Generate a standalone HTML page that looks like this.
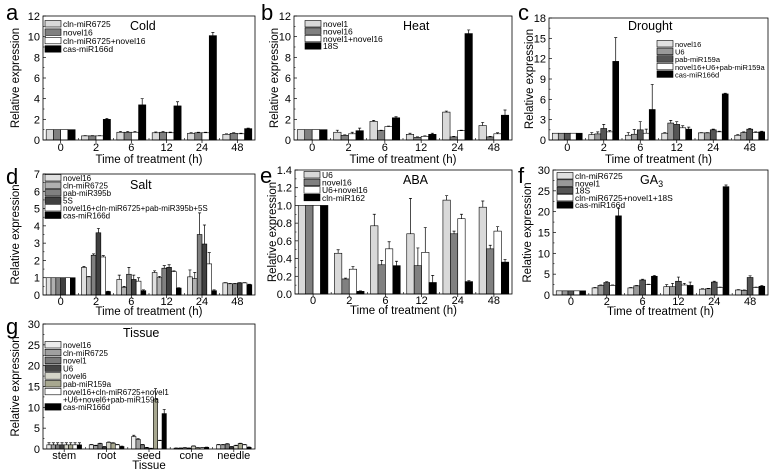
<!DOCTYPE html>
<html><head><meta charset="utf-8"><style>
body{margin:0;background:#fff;}
svg{display:block;font-family:"Liberation Sans",Arial,sans-serif;}
</style></head><body>
<svg id="fig" width="769" height="476" viewBox="0 0 769 476" xmlns="http://www.w3.org/2000/svg"></svg>
<script>
const times=["0","2","6","12","24","48"];
const tissues=["stem","root","seed","cone","needle"];
// panel a
const aNames=["cln-miR6725","novel16","cln-miR6725+novel16","cas-miR166d"];
const aVals=[[1,0.4,0.75,0.7,0.65,0.55],[1,0.4,0.75,0.75,0.7,0.65],[1,0.4,0.75,0.7,0.7,0.6],[1,2,3.4,3.3,10.1,1.1]];
const aErr=[[0,0.03,0.08,0.08,0.05,0.05],[0,0.03,0.08,0.08,0.05,0.05],[0,0.03,0.08,0.06,0.05,0.05],[0,0.1,0.6,0.4,0.3,0.05]];
// panel b
const bNames=["novel1","novel16","novel1+novel16","18S"];
const bVals=[[1,0.75,1.8,0.55,2.7,1.4],[1,0.45,0.9,0.25,0.3,0.3],[1,0.6,1.3,0.35,0.9,0.6],[1,0.9,2.15,0.55,10.3,2.4]];
const bErr=[[0,0.2,0.1,0.1,0.1,0.3],[0,0.05,0.05,0.05,0.05,0.05],[0,0.15,0.05,0.05,0.05,0.1],[0,0.25,0.1,0.1,0.35,0.5]];
// panel c
const cNames=["novel16","U6","pab-miR159a","novel16+U6+pab-miR159a","cas-miR166d"];
const cVals=[[1,0.8,0.7,1.0,1.05,0.7],[1,0.9,0.85,2.5,1.05,1.1],[1,1.7,1.5,2.3,1.5,1.6],[1,1.2,1.0,1.8,1.2,1.1],[1,11.6,4.5,1.6,6.8,1.2]];
const cErr=[[0,0.3,0.4,0.1,0.05,0.1],[0,0.3,0.7,0.4,0.05,0.1],[0,0.6,1.2,0.4,0.1,0.1],[0,0.2,0.6,0.3,0.1,0.1],[0,3.5,3.7,0.3,0.1,0.1]];
// panel d
const dNames=["novel16","cln-miR6725","pab-miR395b","5S","novel16+cln-miR6725+pab-miR395b+5S","cas-miR166d"];
const dVals=[[1,1.6,0.9,1.3,1.05,0.7],[1,1.05,0.45,1.0,0.95,0.65],[1,2.3,1.2,1.55,3.5,0.65],[1,3.6,0.9,1.6,2.95,0.7],[1,2.2,0.8,1.35,1.8,0.7],[1,0.2,0.25,0.4,0.25,0.6]];
const dErr=[[0,0.05,0.25,0.1,0.4,0.02],[0,0.02,0.05,0.08,0.35,0.02],[0,0.08,0.4,0.15,1.25,0.02],[0,0.25,0.25,0.15,1.1,0.02],[0,0.08,0.2,0.05,0.65,0.02],[0,0.02,0.05,0.02,0.05,0.02]];
// panel e
const eNames=["U6","novel16","U6+novel16","cln-miR162"];
const eVals=[[1,0.46,0.77,0.68,1.06,0.98],[1,0.17,0.33,0.32,0.68,0.51],[1,0.28,0.51,0.47,0.85,0.71],[1,0.03,0.32,0.13,0.14,0.36]];
const eErr=[[0,0.04,0.13,0.4,0.05,0.07],[0,0.01,0.05,0.2,0.03,0.04],[0,0.03,0.08,0.28,0.05,0.05],[0,0.005,0.05,0.08,0.01,0.03]];
// panel f
const fNames=["cln-miR6725","novel1","18S","cln-miR6725+novel1+18S","cas-miR166d"];
const fVals=[[1,1.7,1.7,2,1.4,1.2],[1,2.3,2.2,2,1.5,1.1],[1,3,3.6,3.3,3.1,4.2],[1,2.3,2.5,2.4,1.8,1.8],[1,19,4.5,2.3,26,2.1]];
const fErr=[[0,0.1,0.1,0.5,0.1,0.1],[0,0.1,0.1,0.8,0.1,0.1],[0,0.2,0.2,1.0,0.2,0.4],[0,0.1,0.1,0.4,0.1,0.1],[0,1.8,0.2,0.8,0.4,0.2]];
// panel g
const gNames=["novel16","cln-miR6725","novel1","U6","novel6","pab-miR159a","novel16+cln-miR6725+novel1\n+U6+novel6+pab-miR159a","cas-miR166d"];
const gVals=[[1,1,3,0.2,1],[1,0.8,2.3,0.2,1],[1,1.3,1,0.3,1.2],[1,0.5,0.3,0.2,0.5],[1,1.6,0.1,0.7,0.8],[1,1.4,12,0.3,1.3],[1,1,2,0.3,1],[1,0.6,8.5,0.4,0.4]];
const gErr=[[0.5,0.1,0.3,0.05,0.1],[0.5,0.1,0.2,0.05,0.1],[0.5,0.1,0.1,0.05,0.1],[0.5,0.1,0.1,0.05,0.1],[0.5,0.1,0.1,0.05,0.1],[0.5,0.1,2.5,0.05,0.1],[0.5,0.1,0.1,0.05,0.1],[0.5,0.1,1,0.05,0.1]];

const C4=["#d9d9d9","#808080","#ffffff","#000000"];
const C5=["#e0e0e0","#999999","#555555","#ffffff","#000000"];
const C6=["#e0e0e0","#b0b0b0","#808080","#404040","#ffffff","#000000"];
const CG=["#ececec","#a0a0a0","#7a7a7a","#454545","#d4d4c8","#a8a890","#ffffff","#000000"];

const NS="http://www.w3.org/2000/svg";
const svg=document.getElementById("fig");
function mk(tag,attrs,parent){const e=document.createElementNS(NS,tag);for(const k in attrs)e.setAttribute(k,attrs[k]);(parent||svg).appendChild(e);return e;}
function txt(s,x,y,size,anchor,parent,extra){const t=mk("text",Object.assign({x:x,y:y,"font-size":size,"text-anchor":anchor||"start",fill:"#000"},extra||{}),parent);t.textContent=s;return t;}

function panel(o){
  const g=mk("g",{});
  
  
  const {x0,x1,y0,y1,max,step}=o;
  const ys=v=>y1-(v/max)*(y1-y0);
  const n=o.cats.length, band=(x1-x0)/n;
  const xc=i=>x0+band*(i+0.5);
  const ns=o.vals.length, gw=band*0.82, bw=gw/ns;
  o.vals.forEach((ser,s)=>{
    ser.forEach((v,i)=>{
      const bx=xc(i)-gw/2+s*bw;
      const r=mk("rect",{x:bx,y:ys(v),width:bw,height:y1-ys(v),fill:o.colors[s],stroke:"#000","stroke-width":0.6},g);
      
      
      const e=o.err[s][i];
      if(e>0){const cx=bx+bw/2;mk("path",{d:`M${cx},${ys(v)}V${ys(v+e)}M${cx-1.5},${ys(v+e)}H${cx+1.5}`,stroke:"#000","stroke-width":0.7,fill:"none"},g);}
    });
  });
  const fr=mk("rect",{x:x0,y:y0,width:x1-x0,height:y1-y0,fill:"none",stroke:"#000","stroke-width":0.8},g);
  
  
  for(let v=0;v<=max+1e-9;v+=step){
    const y=ys(v);
    mk("line",{x1:x0,x2:x0+3,y1:y,y2:y,stroke:"#000","stroke-width":0.7},g);
    const hv=v+step/2; if(hv<max){mk("line",{x1:x0,x2:x0+1.5,y1:ys(hv),y2:ys(hv),stroke:"#000","stroke-width":0.6},g);}
    const lab=o.dec?v.toFixed(1):String(Math.round(v));
    const t=txt(lab,x0-3,y+4,11,"end",g);
    
    
  }
  o.cats.forEach((c,i)=>{
    mk("line",{x1:xc(i),x2:xc(i),y1:y1,y2:y1+3,stroke:"#000","stroke-width":0.7},g);
    if(i<n-1)mk("line",{x1:x0+band*(i+1),x2:x0+band*(i+1),y1:y1,y2:y1-2,stroke:"#000","stroke-width":0.6},g);
    const t=txt(c,xc(i),y1+o.tkOff,11,"middle",g);
    
    
  });
  const xt=txt(o.xtitle,(x0+x1)/2,y1+o.ttOff,11.5,"middle",g);
  
  
  const yt=txt("Relative expression",0,0,11.5,"middle",g,{transform:`translate(${o.ytx},${(y0+y1)/2}) rotate(-90)`});
  
  
  const lt=txt(o.id,o.lx,o.ly,22,"start",g);
  
  
  const tt=txt(o.title,o.tx,o.ty,12.5,"start",g);
  
  
  if(o.sub){const s=mk("tspan",{"font-size":9,dy:3},tt);s.textContent=o.sub;}
  let ly=o.legY;
  const fs=o.legFs||8.5;
  o.names.forEach((nm,s)=>{
    const lines=nm.split("\n");
    const le=mk("g",{},g);
    
    
    mk("rect",{x:o.legX,y:ly-3.5,width:16,height:6.5,fill:o.colors[s],stroke:"#000","stroke-width":0.6},le);
    lines.forEach((ln,k)=>{txt(ln,o.legX+18,ly+3+k*7.5,fs,"start",le);});
    ly+=o.legDy+(lines.length-1)*7.5;
  });
}
const R1={tkOff:11,ttOff:23}, R2={tkOff:10,ttOff:20};
panel(Object.assign({id:"a",x0:43,x1:255,y0:16,y1:140,max:12,step:2,cats:times,vals:aVals,err:aErr,colors:C4,names:aNames,legX:45,legY:24,legDy:8.4,title:"Cold",tx:130,ty:30,lx:6,ly:20,ytx:19,xtitle:"Time of treatment (h)"},R1));
panel(Object.assign({id:"b",x0:294,x1:512,y0:16,y1:140,max:12,step:2,cats:times,vals:bVals,err:bErr,colors:C4,names:bNames,legX:305,legY:24,legDy:7.4,title:"Heat",tx:403,ty:30,lx:261,ly:20,ytx:278,xtitle:"Time of treatment (h)"},R1));
panel(Object.assign({id:"c",x0:549,x1:768,y0:18,y1:140,max:18,step:3,cats:times,vals:cVals,err:cErr,colors:C5,names:cNames,legX:657,legY:44,legDy:7.6,legFs:7.5,title:"Drought",tx:628,ty:30,lx:518,ly:20,ytx:533,xtitle:"Time of treatment (h)"},R1));
panel(Object.assign({id:"d",x0:43,x1:255,y0:174,y1:295,max:7,step:1,cats:times,vals:dVals,err:dErr,colors:C6,names:dNames,legX:45,legY:178,legDy:7.5,legFs:8,title:"Salt",tx:130,ty:189,lx:6,ly:184,ytx:19,xtitle:"Time of treatment (h)"},R2));
panel(Object.assign({id:"e",x0:295,x1:512,y0:170,y1:294,max:1.4,step:0.2,dec:true,cats:times,vals:eVals,err:eErr,colors:C4,names:eNames,legX:304,legY:175,legDy:7.6,title:"ABA",tx:403,ty:184,lx:260,ly:183,ytx:276,xtitle:"Time of treatment (h)"},R2));
panel(Object.assign({id:"f",x0:553,x1:768,y0:170,y1:295,max:30,step:5,cats:times,vals:fVals,err:fErr,colors:C5,names:fNames,legX:557,legY:176,legDy:7.3,title:"GA",sub:"3",tx:640,ty:184,lx:518,ly:183,ytx:531,xtitle:"Time of treatment (h)"},R2));
panel(Object.assign({id:"g",x0:43,x1:255,y0:324,y1:449,max:30,step:5,cats:tissues,vals:gVals,err:gErr,colors:CG,names:gNames,legX:45,legY:345,legDy:7.8,legFs:8,title:"Tissue",tx:123,ty:337,lx:6,ly:334,ytx:19,xtitle:"Tissue"},R2));
</script>
</body></html>
